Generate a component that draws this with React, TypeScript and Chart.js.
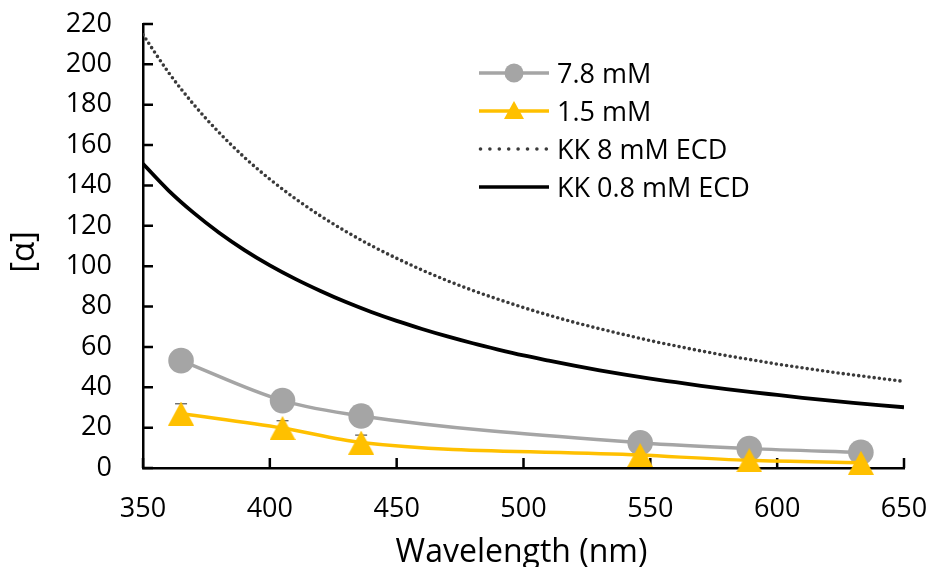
import React, { useEffect, useRef } from 'react';
import { Chart, registerables } from 'chart.js';

Chart.register(...registerables);

// ---- data ----
const seriesLabels = ['7.8 mM', '1.5 mM', 'KK 8 mM ECD', 'KK 0.8 mM ECD'];
const wavelengths = [365, 405, 436, 546, 589, 633];
const conc78 = [53.2, 33.4, 25.8, 12.5, 9.6, 7.8];
const conc15 = [27.0, 19.8, 12.6, 6.4, 3.8, 2.6];
const err15 = [4.8, 3.6, 3.7, 1.0, 0.8, 0.8];
const kkWavelengths = [
  350, 360, 370, 380, 390, 400, 410, 420, 430, 440, 450, 460, 470, 480, 490, 500,
  510, 520, 530, 540, 550, 560, 570, 580, 590, 600, 610, 620, 630, 640, 650,
];
const kk8 = [
  214.7, 196.1, 180.1, 166.2, 153.9, 143.1, 133.5, 124.9, 117.2, 110.2, 103.9, 98.1, 92.8, 88.0, 83.6, 79.5,
  75.7, 72.2, 69.0, 66.0, 63.1, 60.5, 58.0, 55.7, 53.6, 51.5, 49.6, 47.8, 46.1, 44.5, 42.9,
];
const kk08 = [
  150.7, 137.6, 126.4, 116.6, 108.0, 100.4, 93.7, 87.7, 82.2, 77.3, 72.9, 68.9, 65.2, 61.8, 58.7, 55.8,
  53.2, 50.7, 48.4, 46.3, 44.3, 42.5, 40.7, 39.1, 37.6, 36.2, 34.8, 33.5, 32.3, 31.2, 30.1,
];
const xTitle = 'Wavelength (nm)';
const yTitle = '[α]';

const FONT = '"Open Sans", sans-serif';
const TICK_SIZE = 27;
const GRAY = '#A5A5A5';
const GOLD = '#FFC000';
const DOT = '#3A3A3A';

function makeTriangle(w: number, h: number, color: string) {
  const c = document.createElement('canvas');
  c.width = w;
  c.height = h;
  const g = c.getContext('2d')!;
  g.fillStyle = color;
  g.beginPath();
  g.moveTo(w / 2, 0);
  g.lineTo(w, h);
  g.lineTo(0, h);
  g.closePath();
  g.fill();
  return c;
}

const tickPlugin = {
  id: 'insideTicks',
  beforeDatasetsDraw(chart: any) {
    const { ctx, chartArea, scales } = chart;
    const x = scales.x;
    const y = scales.y;
    ctx.save();
    ctx.strokeStyle = '#000';
    ctx.lineWidth = 2.5;
    ctx.beginPath();
    x.ticks.forEach((t: any) => {
      const px = x.getPixelForValue(t.value);
      ctx.moveTo(px, chartArea.bottom);
      ctx.lineTo(px, chartArea.bottom - 10);
    });
    y.ticks.forEach((t: any) => {
      const py = y.getPixelForValue(t.value);
      ctx.moveTo(chartArea.left, py);
      ctx.lineTo(chartArea.left + 10, py);
    });
    ctx.stroke();
    // error bars for 1.5 mM
    ctx.strokeStyle = '#303030';
    ctx.lineWidth = 1;
    ctx.beginPath();
    wavelengths.forEach((w, i) => {
      const px = x.getPixelForValue(w);
      const top = y.getPixelForValue(conc15[i] + err15[i]);
      const bot = y.getPixelForValue(conc15[i] - err15[i]);
      ctx.moveTo(px, top);
      ctx.lineTo(px, bot);
      ctx.moveTo(px - 6, top);
      ctx.lineTo(px + 6, top);
      ctx.moveTo(px - 6, bot);
      ctx.lineTo(px + 6, bot);
    });
    ctx.stroke();
    ctx.restore();
  },
};

const titlePlugin = {
  id: 'axisTitles',
  afterDraw(chart: any) {
    const { ctx, chartArea } = chart;
    ctx.save();
    ctx.fillStyle = '#000';
    ctx.font = `32px ${FONT}`;
    ctx.textAlign = 'center';
    ctx.textBaseline = 'alphabetic';
    ctx.fillText(xTitle, (chartArea.left + chartArea.right) / 2 - 2, 562);
    ctx.translate(34, (chartArea.top + chartArea.bottom) / 2 + 6);
    ctx.rotate(-Math.PI / 2);
    ctx.font = `33px ${FONT}`;
    ctx.fillText(yTitle, 0, 0);
    ctx.restore();
  },
};

const legendPlugin = {
  id: 'customLegend',
  afterDraw(chart: any) {
    const { ctx } = chart;
    const x0 = 479;
    const x1 = 549;
    const xm = (x0 + x1) / 2;
    const tx = 557;
    const rows = [73, 111, 149, 187];
    ctx.save();
    ctx.lineCap = 'butt';
    // 7.8 mM
    ctx.strokeStyle = GRAY;
    ctx.lineWidth = 3.5;
    ctx.beginPath();
    ctx.moveTo(x0, rows[0]);
    ctx.lineTo(x1, rows[0]);
    ctx.stroke();
    ctx.fillStyle = GRAY;
    ctx.beginPath();
    ctx.arc(xm, rows[0], 9.5, 0, Math.PI * 2);
    ctx.fill();
    // 1.5 mM
    ctx.strokeStyle = GOLD;
    ctx.beginPath();
    ctx.moveTo(x0, rows[1]);
    ctx.lineTo(x1, rows[1]);
    ctx.stroke();
    ctx.fillStyle = GOLD;
    ctx.beginPath();
    ctx.moveTo(xm, rows[1] - 10);
    ctx.lineTo(xm + 10, rows[1] + 8);
    ctx.lineTo(xm - 10, rows[1] + 8);
    ctx.closePath();
    ctx.fill();
    // KK 8 dotted
    ctx.fillStyle = DOT;
    for (let i = 0; i < 8; i++) {
      ctx.beginPath();
      ctx.arc(x0 + 1.5 + i * 9.4, rows[2], 1.8, 0, Math.PI * 2);
      ctx.fill();
    }
    // KK 0.8 solid
    ctx.strokeStyle = '#000';
    ctx.lineWidth = 3.5;
    ctx.beginPath();
    ctx.moveTo(x0, rows[3]);
    ctx.lineTo(x1, rows[3]);
    ctx.stroke();
    // texts
    ctx.fillStyle = '#000';
    ctx.font = `${TICK_SIZE}px ${FONT}`;
    ctx.textAlign = 'left';
    ctx.textBaseline = 'alphabetic';
    seriesLabels.forEach((s, i) => ctx.fillText(s, tx, rows[i] + 9.5));
    ctx.restore();
  },
};

function zeroPad(s: any) {
  s.paddingTop = 0;
  s.paddingBottom = 0;
  s.paddingLeft = 0;
  s.paddingRight = 0;
}

export default function App() {
  const ref = useRef<HTMLCanvasElement>(null);
  useEffect(() => {
    if (!ref.current) return;
    const tri = makeTriangle(26, 24, GOLD);
    const chart = new Chart(ref.current, {
      type: 'line',
      data: {
        datasets: [
          {
            label: seriesLabels[0],
            data: wavelengths.map((w, i) => ({ x: w, y: conc78[i] })),
            borderColor: GRAY,
            backgroundColor: GRAY,
            borderWidth: 3.5,
            pointStyle: 'circle',
            pointRadius: 12.8,
            pointBackgroundColor: GRAY,
            pointBorderColor: GRAY,
            pointBorderWidth: 0,
            cubicInterpolationMode: 'monotone',
            clip: false,
            order: 2,
          },
          {
            label: seriesLabels[1],
            data: wavelengths.map((w, i) => ({ x: w, y: conc15[i] })),
            borderColor: GOLD,
            backgroundColor: GOLD,
            borderWidth: 3.5,
            pointStyle: tri,
            pointRadius: 13,
            cubicInterpolationMode: 'monotone',
            clip: false,
            order: 1,
          },
          {
            label: seriesLabels[2],
            data: kkWavelengths.map((w, i) => ({ x: w, y: kk8[i] })),
            borderColor: DOT,
            borderWidth: 3.6,
            borderDash: [0, 5.2],
            borderCapStyle: 'round',
            pointRadius: 0,
            cubicInterpolationMode: 'monotone',
            order: 4,
          },
          {
            label: seriesLabels[3],
            data: kkWavelengths.map((w, i) => ({ x: w, y: kk08[i] })),
            borderColor: '#000',
            borderWidth: 3.8,
            pointRadius: 0,
            cubicInterpolationMode: 'monotone',
            order: 3,
          },
        ],
      } as any,
      options: {
        responsive: false,
        animation: false,
        devicePixelRatio: 1,
        layout: { padding: { top: 24, right: 26, left: 0, bottom: 0 } },
        plugins: {
          legend: { display: false },
          tooltip: { enabled: false },
        },
        scales: {
          x: {
            type: 'linear',
            min: 350,
            max: 650,
            grid: { display: false, drawTicks: false },
            border: { display: true, color: '#000', width: 2.5 },
            ticks: {
              stepSize: 50,
              padding: 25,
              color: '#000',
              font: { family: FONT, size: TICK_SIZE },
              maxRotation: 0,
            },
            afterFit: (s: any) => {
              s.height = 99;
              zeroPad(s);
            },
          },
          y: {
            type: 'linear',
            min: 0,
            max: 220,
            grid: { display: false, drawTicks: false },
            border: { display: true, color: '#000', width: 2.5 },
            ticks: {
              stepSize: 20,
              padding: 31,
              color: '#000',
              font: { family: FONT, size: TICK_SIZE },
            },
            afterFit: (s: any) => {
              s.width = 143;
              zeroPad(s);
            },
          },
        },
      } as any,
      plugins: [tickPlugin, titlePlugin, legendPlugin],
    });
    return () => chart.destroy();
  }, []);
  return (
    <div style={{ position: 'fixed', left: 0, top: 0, width: 930, height: 567, background: '#fff' }}>
      <canvas ref={ref} width={930} height={567} />
    </div>
  );
}
